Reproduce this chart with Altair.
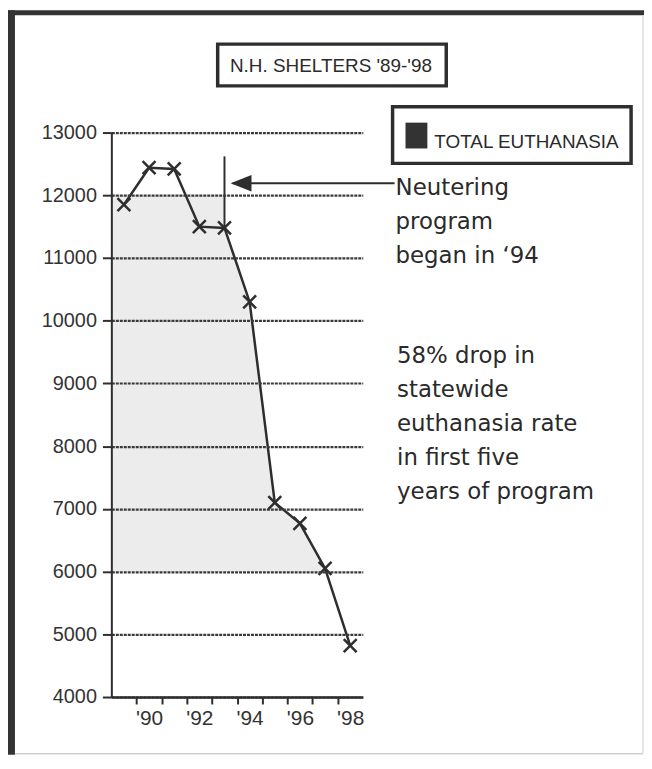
import altair as alt
import pandas as pd

# ---- data ----
years = [1989, 1990, 1991, 1992, 1993, 1994, 1995, 1996, 1997, 1998]
totals = [11850, 12440, 12420, 11500, 11480, 10300, 7100, 6770, 6050, 4820]
y_ticks = [4000, 5000, 6000, 7000, 8000, 9000, 10000, 11000, 12000, 13000]
x_tick_marks = [1989.5, 1990.5, 1991.5, 1992.5, 1993.5, 1994.5, 1995.5, 1996.5, 1997.5]
x_label_years = [1990, 1992, 1994, 1996, 1998]
marker_year = 1993
marker_top = 12620
fill_top = 12000
fill_bottom = 6000
fill_last_year = 1997
title_text = "N.H. SHELTERS '89-'98"
legend_text = "TOTAL EUTHANASIA"
note1 = ["Neutering", "program", "began in \u201894"]
note2 = ["58% drop in", "statewide", "euthanasia rate", "in first five", "years of program"]

df = pd.DataFrame({"year": years, "total": totals})
one = pd.DataFrame({"k": [0]})

INK = "#2e2e2e"
FILL = "#ececec"
SANS = "Liberation Sans"

x_scale = alt.Scale(domain=[1988.5, 1998.5], nice=False, zero=False)
y_scale = alt.Scale(domain=[4000, 13000], nice=False, zero=False)

x_axis = alt.Axis(
    values=sorted(x_tick_marks + x_label_years),
    labelExpr="datum.value % 2 === 0 ? \"'\" + slice(format(datum.value, 'd'), 2) : ''",
    tickOpacity={"condition": {"test": "datum.value % 1 === 0", "value": 0}, "value": 1},
    title=None, grid=False, labelAngle=0, labelOverlap=False, labelFlush=False,
    labelFont=SANS, labelFontSize=21, labelColor="#333",
    labelPadding=4, tickSize=7, tickWidth=2, tickColor=INK,
    domainColor=INK, domainWidth=2.5, zindex=1,
)
y_axis = alt.Axis(
    values=y_ticks, format="d", title=None,
    labelFont=SANS, labelFontSize=20, labelColor="#333", labelPadding=6,
    tickSize=9, tickWidth=2, tickColor=INK, domainColor=INK, domainWidth=2,
    grid=True, gridColor="#3a3a3a", gridDash=[3, 1], gridWidth=2.2, zindex=1,
)

X = alt.X("year:Q", scale=x_scale, axis=x_axis)
Y = alt.Y("total:Q", scale=y_scale, axis=y_axis)

fill_rect = alt.Chart(df).transform_filter(alt.datum.year == marker_year).mark_rect(
    color=FILL, stroke=FILL, strokeWidth=1
).encode(
    x=X, x2=alt.value(0),
    y=alt.Y(datum=fill_top, type="quantitative", scale=y_scale, axis=y_axis),
    y2=alt.Y2(datum=fill_bottom),
)
fill_area = alt.Chart(df).transform_filter(
    (alt.datum.year >= marker_year) & (alt.datum.year <= fill_last_year)
).mark_area(color=FILL, stroke=FILL, strokeWidth=1).encode(x=X, y=Y, y2=alt.Y2(datum=fill_bottom))

line = alt.Chart(df).mark_line(color=INK, strokeWidth=2.5).encode(x=X, y=Y)
points = alt.Chart(df).mark_point(
    shape="M-1,-1L1,1M-1,1L1,-1", size=169, filled=False, strokeWidth=2.5, color=INK, opacity=1
).encode(x=X, y=Y)

vrule = alt.Chart(df).transform_filter(alt.datum.year == marker_year).mark_rule(
    color=INK, strokeWidth=2
).encode(x=X, y=Y, y2=alt.Y2(datum=marker_top))

# arrow
arrow_line = alt.Chart(one).mark_rule(color=INK, strokeWidth=2).encode(
    x=alt.value(122), x2=alt.value(285), y=alt.value(51)
)
arrow_head = alt.Chart(one).mark_point(
    shape="M-1,0L1,-0.8L1,0.8Z", size=441, filled=True, color=INK, opacity=1
).encode(x=alt.value(130.5), y=alt.value(51))

# boxes
title_box = alt.Chart(one).mark_rect(fill="white", stroke=INK, strokeWidth=3.5).encode(
    x=alt.value(107), x2=alt.value(337), y=alt.value(-89), y2=alt.value(-47)
)
legend_box = alt.Chart(one).mark_rect(fill="white", stroke=INK, strokeWidth=3.5).encode(
    x=alt.value(283), x2=alt.value(523), y=alt.value(-26), y2=alt.value(31)
)
legend_sq = alt.Chart(one).mark_rect(color="#333").encode(
    x=alt.value(296), x2=alt.value(318), y=alt.value(-10), y2=alt.value(16)
)
title_t = alt.Chart(one).mark_text(
    text=title_text, font=SANS, fontSize=19, align="center", baseline="alphabetic", color="#2a2a2a"
).encode(x=alt.value(221), y=alt.value(-61))
legend_t = alt.Chart(one).mark_text(
    text=legend_text, font=SANS, fontSize=19, align="left", baseline="alphabetic", color="#2a2a2a"
).encode(x=alt.value(325), y=alt.value(16))
note1_t = alt.Chart(one).mark_text(
    text=note1, font="DejaVu Sans", fontSize=23, lineHeight=34.3, align="left",
    baseline="alphabetic", color="#2a2a2a"
).encode(x=alt.value(286), y=alt.value(63))
note2_t = alt.Chart(one).mark_text(
    text=note2, font="DejaVu Sans", fontSize=23, lineHeight=34.2, align="left",
    baseline="alphabetic", color="#2a2a2a"
).encode(x=alt.value(287.5), y=alt.value(232))

# frame
frame_top = alt.Chart(one).mark_rect(color="#333").encode(
    x=alt.value(-104), x2=alt.value(540), y=alt.value(-123), y2=alt.value(-118)
)
frame_left = alt.Chart(one).mark_rect(color="#333").encode(
    x=alt.value(-104), x2=alt.value(-97), y=alt.value(-123), y2=alt.value(626)
)
frame_bottom = alt.Chart(one).mark_rule(color="#cfcfcf", strokeWidth=1.5).encode(
    x=alt.value(-97), x2=alt.value(535), y=alt.value(625)
)
frame_right = alt.Chart(one).mark_rule(color="#dddddd", strokeWidth=1.5).encode(
    x=alt.value(535), y=alt.value(-118), y2=alt.value(625)
)

chart = alt.layer(
    fill_rect, fill_area, line, points, vrule, arrow_line, arrow_head,
    title_box, legend_box, legend_sq, title_t, legend_t, note1_t, note2_t,
    frame_top, frame_left, frame_bottom, frame_right,
).properties(
    width=253, height=568,
    autosize=alt.AutoSizeParams(type="none"),
    padding={"left": 104, "top": 123, "right": 283, "bottom": 59},
    background="white",
).configure_view(stroke="transparent")

chart.save("out.html", embed_options={"renderer": "svg", "actions": False})
